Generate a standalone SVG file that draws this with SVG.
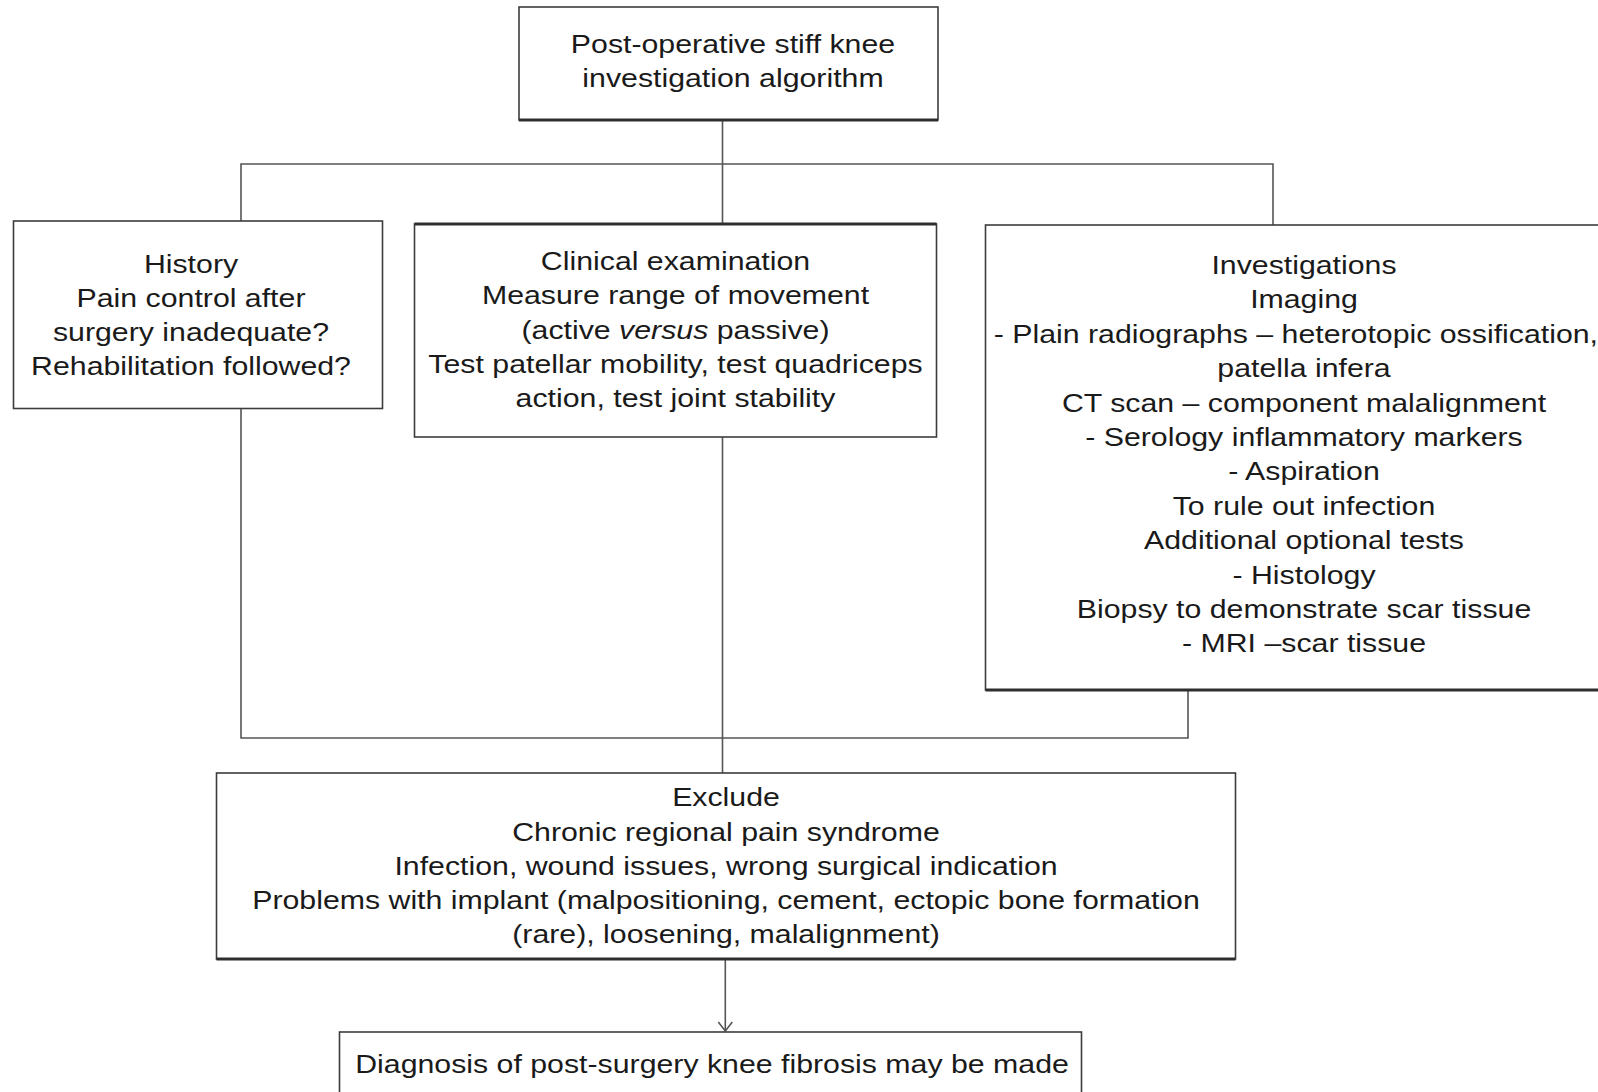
<svg xmlns="http://www.w3.org/2000/svg" width="1598" height="1092" viewBox="0 0 1598 1092">
<style>
.box{fill:#fff;stroke:#3c3c3c;stroke-width:1.6}
.edge{stroke:#2e2e2e;stroke-width:3.2;fill:none}
.conn{stroke:#555;stroke-width:1.6;fill:none}
.t{font-family:"Liberation Sans",Arial,Helvetica,sans-serif;font-size:26px;fill:#1a1a1a;text-anchor:middle}
.it{font-style:italic}
</style>
<defs>
<marker id="arr" viewBox="0 0 12 16" refX="11" refY="8" markerWidth="12" markerHeight="16" markerUnits="userSpaceOnUse" orient="auto">
<path d="M2,1 L11,8 L2,15" fill="none" stroke="#555" stroke-width="1.6"/>
</marker>
</defs>
<rect width="1598" height="1092" fill="#fff"/>
<g id="connectors">
<line class="conn" x1="722.5" y1="120" x2="722.5" y2="224"/>
<polyline class="conn" points="241,221 241,164 1273,164 1273,225"/>
<polyline class="conn" points="241,408 241,738 1188,738 1188,690"/>
<line class="conn" x1="722.5" y1="437" x2="722.5" y2="773"/>
<line class="conn" x1="725.3" y1="959" x2="725.3" y2="1031" marker-end="url(#arr)"/>
</g>
<g id="node-top">
<rect class="box" x="519" y="7" width="419" height="113"/>
<line class="edge" x1="519" y1="120" x2="938" y2="120"/>
<text class="t" transform="translate(733 0) scale(1.165 1)"><tspan x="0" y="53">Post-operative stiff knee</tspan><tspan x="0" y="87">investigation algorithm</tspan></text>
</g>
<g id="node-history">
<rect class="box" x="13.5" y="221" width="369" height="187.5"/>
<text class="t" transform="translate(191 0) scale(1.165 1)"><tspan x="0" y="273">History</tspan><tspan x="0" y="307">Pain control after</tspan><tspan x="0" y="341">surgery inadequate?</tspan><tspan x="0" y="375">Rehabilitation followed?</tspan></text>
</g>
<g id="node-clinical">
<rect class="box" x="414.5" y="224" width="522" height="213"/>
<line class="edge" x1="414.5" y1="224" x2="936.5" y2="224"/>
<text class="t" transform="translate(675.5 0) scale(1.165 1)"><tspan x="0" y="270">Clinical examination</tspan><tspan x="0" y="304">Measure range of movement</tspan><tspan x="0" y="339">(active <tspan class="it">versus</tspan> passive)</tspan><tspan x="0" y="373">Test patellar mobility, test quadriceps</tspan><tspan x="0" y="407">action, test joint stability</tspan></text>
</g>
<g id="node-investigations">
<rect class="box" x="985.5" y="225" width="640" height="465"/>
<line class="edge" x1="985.5" y1="690" x2="1600" y2="690"/>
<text class="t" transform="translate(1304 0) scale(1.165 1)"><tspan x="0" y="274">Investigations</tspan><tspan x="0" y="308.4">Imaging</tspan><tspan x="-7" y="342.8">- Plain radiographs – heterotopic ossification,</tspan><tspan x="0" y="377.2">patella infera</tspan><tspan x="0" y="411.6">CT scan – component malalignment</tspan><tspan x="0" y="446">- Serology inflammatory markers</tspan><tspan x="0" y="480.4">- Aspiration</tspan><tspan x="0" y="514.8">To rule out infection</tspan><tspan x="0" y="549.2">Additional optional tests</tspan><tspan x="0" y="583.6">- Histology</tspan><tspan x="0" y="618">Biopsy to demonstrate scar tissue</tspan><tspan x="0" y="652.4">- MRI –scar tissue</tspan></text>
</g>
<g id="node-exclude">
<rect class="box" x="216.5" y="773" width="1019" height="186"/>
<line class="edge" x1="216.5" y1="959" x2="1235.5" y2="959"/>
<text class="t" transform="translate(726 0) scale(1.165 1)"><tspan x="0" y="806">Exclude</tspan><tspan x="0" y="841">Chronic regional pain syndrome</tspan><tspan x="0" y="875">Infection, wound issues, wrong surgical indication</tspan><tspan x="0" y="909">Problems with implant (malpositioning, cement, ectopic bone formation</tspan><tspan x="0" y="943">(rare), loosening, malalignment)</tspan></text>
</g>
<g id="node-diagnosis">
<rect class="box" x="339.5" y="1032" width="742" height="80"/>
<text class="t" transform="translate(712 0) scale(1.165 1)"><tspan x="0" y="1073">Diagnosis of post-surgery knee fibrosis may be made</tspan></text>
</g>
</svg>
